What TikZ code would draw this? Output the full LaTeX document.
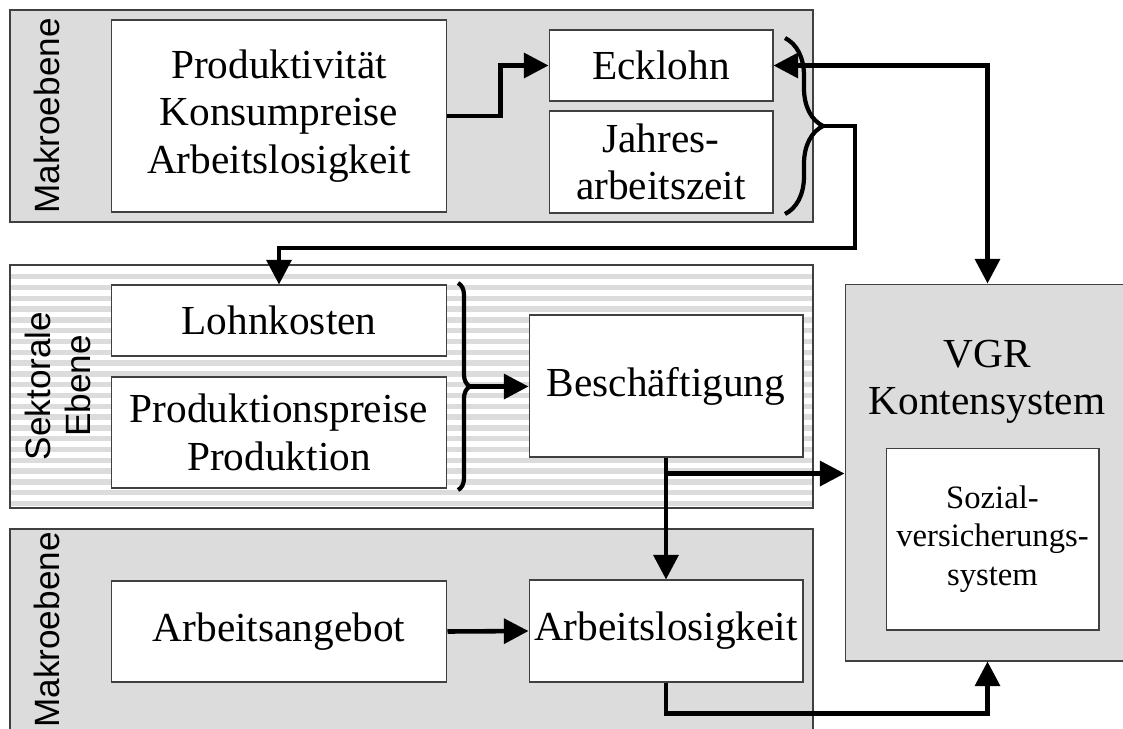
\documentclass[tikz,border=0pt]{standalone}
\usepackage{fontspec}
\setmainfont{Liberation Serif}
\setsansfont{Liberation Sans}
\usetikzlibrary{arrows.meta,decorations.pathreplacing}
\definecolor{bandgray}{HTML}{DCDCDC}
\definecolor{rimgray}{HTML}{404040}

\begin{document}
\begin{tikzpicture}[x=0.02cm,y=-0.02cm,
    >={Triangle[length=14pt,width=14pt]},
    box/.style={draw=rimgray,line width=0.6pt,fill=white,inner sep=0pt,align=center,font=\fontsize{23.5}{27}\selectfont},
    band/.style={draw=rimgray,line width=0.6pt},
    levellabel/.style={rotate=90,align=center,font=\sffamily\fontsize{20}{23}\selectfont},
    flow/.style={line width=2.6pt},
    bracket/.style={line width=2.4pt,decorate,decoration={brace,amplitude=#1}}]
    \clip (0,0) rectangle (1123,728);

    % Draw the three levels as bands
    \draw[band,fill=bandgray] (10,10) rectangle (813,222);
    \fill[white] (10,265) rectangle (813,508);
    \foreach \i in {0,...,21}
        \fill[bandgray] (10,{274+10.8*\i}) rectangle (813,{279.4+10.8*\i});
    \draw[band] (10,265) rectangle (813,508);
    \draw[band,fill=bandgray] (10,529) rectangle (813,740);

    % Labels of the levels
    \node[levellabel] (macrotop) at (47,116) {Makroebene};
    \node[levellabel] (sector) at (58,386) {Sektorale\\Ebene};
    \node[levellabel] (macrobottom) at (47,630) {Makroebene};

    % Boxes on the upper macro level
    \node[box,minimum width=6.72cm,minimum height=3.84cm] (prod) at (279,116) {Produktivität\\Konsumpreise\\Arbeitslosigkeit};
    \node[box,minimum width=4.48cm,minimum height=1.42cm] (ecklohn) at (661,65.5) {Ecklohn};
    \node[box,minimum width=4.48cm,minimum height=2.04cm] (jahres) at (661,162) {Jahres-\\arbeitszeit};

    % Boxes on the sector level
    \node[box,minimum width=6.72cm,minimum height=1.42cm] (lohn) at (279,320.5) {Lohnkosten};
    \node[box,minimum width=6.72cm,minimum height=2.22cm] (preise) at (279,432.5) {Produktionspreise\\Produktion};
    \node[box,minimum width=5.48cm,minimum height=2.84cm] (besch) at (666,386) {Beschäftigung};

    % Boxes on the lower macro level
    \node[box,minimum width=6.72cm,minimum height=2.02cm] (angebot) at (279,631.5) {Arbeitsangebot};
    \node[box,minimum width=5.48cm,minimum height=2.04cm] (alos) at (666,631) {Arbeitslosigkeit};

    % VGR with the social insurance system inside
    \node[draw=rimgray,line width=0.6pt,fill=bandgray,minimum width=5.7cm,minimum height=7.54cm] (vgr) at (987.5,472.5) {};
    \node[align=center,font=\fontsize{23.5}{27}\selectfont] (vgrtitle) at (987,382) {VGR\\Kontensystem};
    \node[box,minimum width=4.26cm,minimum height=3.64cm,font=\fontsize{18.6}{22}\selectfont] (sozial) at (992.5,539) {Sozial-\\versicherungs-\\system};

    % Braces
    \draw[bracket=0.76cm] (785,38) -- (785,214);
    \coordinate (tipone) at (823,126);
    \draw[bracket=0.24cm] (458,283) -- (458,490);
    \coordinate (tiptwo) at (470,386.5);

    % Connectors
    \draw[flow,->] (prod.east) -- ++(53,0) |- (ecklohn.west);
    \draw[flow,<->] (ecklohn.east) -| (vgr.north);
    \coordinate (turn) at (855,248);
    \draw[flow,->] (tipone) -| (turn) -| (lohn.north);
    \draw[flow,->] (tiptwo) -- (tiptwo -| besch.west);
    \draw[flow,->] (besch.south) -- (alos.north);
    \path (besch.south) ++(0,16) coordinate (split);
    \draw[flow,->] (split) -- (split -| vgr.west);
    \draw[flow,->] (angebot.east) -- (alos.west);
    \draw[flow,->] (alos.south) -- ++(0,31) -| (vgr.south);
\end{tikzpicture}
\end{document}
